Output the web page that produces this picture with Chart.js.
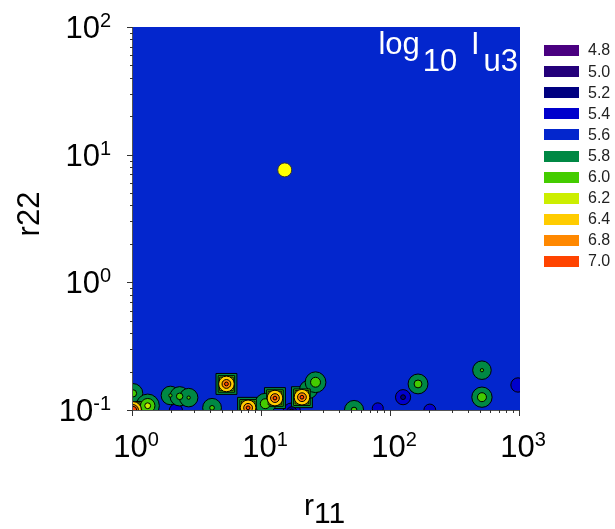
<!DOCTYPE html>
<html>
<head>
<meta charset="utf-8">
<script src="https://cdn.jsdelivr.net/npm/chart.js@4"></script>
<style>
html, body { margin: 0; padding: 0; background: #fff; }
</style>
</head>
<body>
<canvas id="myChart" width="615" height="529"></canvas>
<script>
// contour levels and their fill colours
var levels = [4.8, 5.0, 5.2, 5.4, 5.6, 5.8, 6.0, 6.2, 6.4, 6.8, 7.0];
var levelColors = ['#4a0080', '#24007a', '#000080', '#0000cc', '#0326cd', '#008844',
                   '#44cc00', '#ccee00', '#ffcc00', '#ff8800', '#ff4400'];
var backgroundLevel = 5.6;
var backgroundValue = 5.65;

// local extrema of log10 Iu3 (peaks above / dips below the background)
var blobX     = [1.0,  1.0,  1.3,  1.95, 2.3,  2.7,  2.15, 4.1,  5.3,  7.8,  12.6, 10.6, 20.4, 23.0, 26.0, 17.0, 51.7, 79.0, 124,  162,  200,  507,  507,  965];
var blobY     = [0.100,0.135,0.108,0.130,0.128,0.125,0.099,0.104,0.160,0.104,0.124,0.112,0.126,0.145,0.165,0.097,0.100,0.103,0.126,0.160,0.100,0.205,0.126,0.157];
var blobValue = [7.2,  6.05, 6.25, 6.01, 6.04, 6.01, 5.45, 6.02, 7.05, 7.05, 7.05, 6.1,  7.05, 6.0,  6.1,  5.1,  6.03, 5.52, 5.35, 6.06, 5.5,  6.01, 6.08, 5.4];

// highlighted point
var markerX = [15];
var markerY = [7.6];

var xTicks = [1, 10, 100, 1000];
var xTickExp = ['0', '1', '2', '3'];
var yTicks = [0.1, 1, 10, 100];
var yTickExp = ['-1', '0', '1', '2'];

var FONT = '"Liberation Sans", Arial, sans-serif';

// gaussian bump: radius (px) where it crosses a contour value
function ringRadius(v, contour) {
  var b = backgroundValue;
  var sigma = v > b ? 7 : 4;
  var ratio = (v - b) / (contour - b);
  if (ratio <= 1) return 0;
  return sigma * Math.sqrt(2 * Math.log(ratio));
}

function buildDatasets() {
  var sets = [];
  for (var i = 0; i < levels.length; i++) {
    var L = levels[i];
    var pts = [];
    for (var j = 0; j < blobX.length; j++) {
      var v = blobValue[j];
      var c = null;
      if (v > backgroundLevel && L > backgroundLevel && L <= v + 1e-9) {
        c = L;
      } else if (v < backgroundLevel && L < backgroundLevel && i + 1 < levels.length && levels[i + 1] > v) {
        c = levels[i + 1];
      }
      if (c !== null) pts.push({ x: blobX[j], y: blobY[j], v: v, c: c, L: L });
    }
    sets.push({
      label: L.toFixed(1),
      data: pts,
      backgroundColor: levelColors[i],
      borderColor: '#000',
      borderWidth: 1,
      pointRadius: function(ctx) { return ctx.raw ? ringRadius(ctx.raw.v, ctx.raw.c) : 0; },
      // strong peaks come out squarish on the outer levels
      pointStyle: function(ctx) { return ctx.raw && ctx.raw.v >= 6.8 && ctx.raw.L < 6.4 ? 'rect' : 'circle'; },
      clip: 0,
      order: -Math.abs(L - backgroundLevel) * 10
    });
  }
  var m = [];
  for (var k = 0; k < markerX.length; k++) m.push({ x: markerX[k], y: markerY[k] });
  sets.push({
    label: 'marker',
    data: m,
    backgroundColor: '#ffff00',
    borderColor: '#333',
    borderWidth: 1,
    pointRadius: 7,
    clip: 0,
    order: -100
  });
  return sets;
}

// draws text pieces with raised / lowered parts
function drawParts(ctx, parts, x, y, align) {
  var total = 0;
  parts.forEach(function(p) {
    ctx.font = p.size + 'px ' + FONT;
    p.w = ctx.measureText(p.t).width + (p.gap || 0);
    total += p.w;
  });
  var cx = align === 'right' ? x - total : (align === 'center' ? x - total / 2 : x);
  ctx.textAlign = 'left';
  ctx.textBaseline = 'alphabetic';
  parts.forEach(function(p) {
    ctx.font = p.size + 'px ' + FONT;
    ctx.fillText(p.t, cx, y + (p.dy || 0));
    cx += p.w;
  });
}

var decorPlugin = {
  id: 'decor',
  beforeDatasetsDraw: function(chart) {
    var a = chart.chartArea, ctx = chart.ctx;
    ctx.save();
    ctx.fillStyle = levelColors[levels.indexOf(backgroundLevel)];
    ctx.fillRect(a.left, a.top, a.right - a.left, a.bottom - a.top);
    ctx.restore();
  },
  afterDraw: function(chart) {
    var a = chart.chartArea, ctx = chart.ctx;
    var xs = chart.scales.x, ys = chart.scales.y;
    ctx.save();

    // axis lines
    ctx.strokeStyle = '#555';
    ctx.lineWidth = 1;
    ctx.beginPath();
    ctx.moveTo(a.left - 0.5, a.top);
    ctx.lineTo(a.left - 0.5, a.bottom + 0.5);
    ctx.lineTo(a.right, a.bottom + 0.5);
    ctx.stroke();

    // tick marks
    ctx.strokeStyle = '#333';
    ctx.beginPath();
    var i, m, px, len;
    for (i = 0; i < xTicks.length; i++) {
      for (m = 1; m <= 9; m++) {
        var xv = xTicks[i] * m;
        if (xv > xs.max * 1.0001) break;
        px = Math.round(xs.getPixelForValue(xv)) - 0.5;
        len = m === 1 ? 6 : 3;
        ctx.moveTo(px, a.bottom);
        ctx.lineTo(px, a.bottom + len);
      }
    }
    for (i = 0; i < yTicks.length; i++) {
      for (m = 1; m <= 9; m++) {
        var yv = yTicks[i] * m;
        if (yv > ys.max * 1.0001) break;
        px = Math.round(ys.getPixelForValue(yv)) + 0.5;
        len = m === 1 ? 6 : 3;
        ctx.moveTo(a.left, px);
        ctx.lineTo(a.left - len, px);
      }
    }
    ctx.stroke();

    // tick labels
    ctx.fillStyle = '#000';
    for (i = 0; i < xTicks.length; i++) {
      drawParts(ctx, [
        { t: '10', size: 31 },
        { t: xTickExp[i], size: 20, dy: -11 }
      ], xs.getPixelForValue(xTicks[i]) + 3, 457, 'center');
    }
    for (i = 0; i < yTicks.length; i++) {
      drawParts(ctx, [
        { t: '10', size: 31 },
        { t: yTickExp[i], size: 20, dy: -11 }
      ], 111, ys.getPixelForValue(yTicks[i]) + 11, 'right');
    }

    // axis titles
    drawParts(ctx, [
      { t: 'r', size: 30 },
      { t: '11', size: 30, dy: 8 }
    ], 304, 515, 'left');
    ctx.save();
    ctx.translate(39, 214);
    ctx.rotate(-Math.PI / 2);
    drawParts(ctx, [{ t: 'r22', size: 31 }], 0, 0, 'center');
    ctx.restore();

    // label inside the plot
    ctx.fillStyle = '#fff';
    drawParts(ctx, [
      { t: 'log', size: 31, gap: 3 },
      { t: '10', size: 31, dy: 17, gap: 5 },
      { t: ' I', size: 31, gap: 4 },
      { t: 'u3', size: 31, dy: 17 }
    ], 518, 54, 'right');

    // legend
    for (i = 0; i < levels.length; i++) {
      var cy = 50 + i * 21.1;
      ctx.fillStyle = levelColors[i];
      ctx.fillRect(544, Math.round(cy - 5), 35, 11);
      ctx.fillStyle = '#222';
      ctx.font = '16px ' + FONT;
      ctx.textAlign = 'left';
      ctx.textBaseline = 'middle';
      ctx.fillText(levels[i].toFixed(1), 588, cy + 1);
    }
    ctx.restore();
  }
};

var chart = new Chart(document.getElementById('myChart').getContext('2d'), {
  type: 'scatter',
  data: { datasets: buildDatasets() },
  options: {
    responsive: false,
    animation: false,
    events: [],
    layout: { padding: { left: 133, right: 95, top: 27, bottom: 119 } },
    scales: {
      x: { type: 'logarithmic', min: 1, max: 1000, display: false },
      y: { type: 'logarithmic', min: 0.1, max: 100, display: false }
    },
    plugins: {
      legend: { display: false },
      tooltip: { enabled: false }
    }
  },
  plugins: [decorPlugin]
});
</script>
</body>
</html>
